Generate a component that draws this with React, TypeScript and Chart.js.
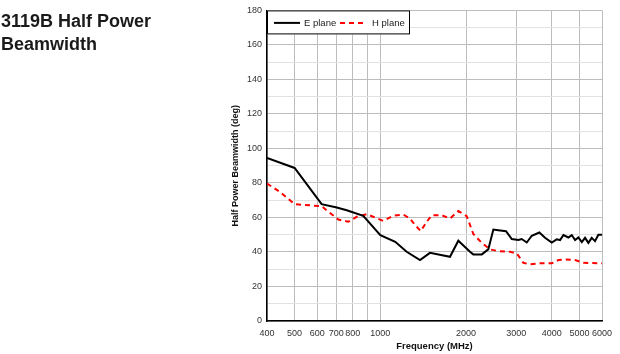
import React, { useEffect, useRef } from "react";
import { Chart, registerables } from "chart.js";

Chart.register(...registerables);

const eFreq = [400, 500, 622, 703, 762, 871, 1000, 1128, 1237, 1378, 1493, 1756, 1878, 2064, 2120, 2270, 2393, 2493, 2595, 2762, 2893, 3051, 3136, 3266, 3401, 3616, 3786, 3997, 4161, 4276, 4393, 4572, 4699, 4826, 4957, 5096, 5233, 5374, 5522, 5672, 5825, 6000];
const eVal = [94.5, 88.7, 67.7, 65.8, 64.2, 61, 49.8, 45.9, 40.1, 35.3, 39.5, 37.2, 46.5, 40.1, 38.6, 38.6, 41.5, 53, 52.6, 52, 47.5, 46.9, 47.5, 45.5, 49.4, 51.3, 48.2, 45.5, 47.3, 46.9, 49.8, 48.4, 49.8, 46.9, 48.4, 45.7, 48.2, 45.3, 48.2, 46.3, 50, 50];

const hFreq = [400, 444, 500, 622, 712, 772, 826, 896, 1024, 1111, 1204, 1271, 1324, 1386, 1455, 1515, 1642, 1756, 1878, 2010, 2120, 2270, 2427, 2595, 2853, 3012, 3177, 3354, 3636, 3997, 4216, 4451, 4826, 5161, 6000];
const hVal = [79.7, 74.8, 67.7, 66.5, 58.8, 57.5, 60.4, 61.9, 58, 61, 61.7, 59.4, 55.6, 52.1, 57.5, 61.3, 61.3, 59.4, 63.7, 60.8, 50.5, 45.3, 41.5, 40.5, 40.1, 39.2, 33.7, 32.8, 33.4, 33.4, 35.3, 35.7, 35.3, 33.7, 33.4];

const xTicks = [400, 500, 600, 700, 800, 900, 1000, 2000, 3000, 4000, 5000, 6000];
const xTickLabels = ["400", "500", "600", "700", "800", "", "1000", "2000", "3000", "4000", "5000", "6000"];

const titleLines = ["3119B Half Power", "Beamwidth"];
const seriesNames = ["E plane", "H plane"];
const yTitle = "Half Power Beamwidth (deg)";
const xTitle = "Frequency (MHz)";

const FONT = '"Liberation Sans", Arial, sans-serif';

export default function App() {
  const ref = useRef<HTMLCanvasElement | null>(null);

  useEffect(() => {
    if (!ref.current) return;
    const overlay = {
      id: "overlay",
      afterDraw(chart: any) {
        const ctx = chart.ctx;
        const ca = chart.chartArea;
        ctx.save();
        // title
        ctx.fillStyle = "#1a1a1a";
        ctx.font = `bold 18px ${FONT}`;
        ctx.textBaseline = "alphabetic";
        ctx.textAlign = "left";
        ctx.fillText(titleLines[0], 1, 27);
        ctx.fillText(titleLines[1], 1, 49.5);
        // legend
        const bx = ca.left, by = ca.top, bw = 143, bh = 24;
        ctx.fillStyle = "#fff";
        ctx.fillRect(bx, by, bw, bh);
        ctx.strokeStyle = "#000";
        ctx.lineWidth = 1;
        ctx.strokeRect(bx + 0.5, by + 0.5, bw - 1, bh - 1);
        const ly = by + 12.5;
        ctx.lineWidth = 2;
        ctx.strokeStyle = "#000";
        ctx.setLineDash([]);
        ctx.beginPath();
        ctx.moveTo(bx + 7, ly);
        ctx.lineTo(bx + 33, ly);
        ctx.stroke();
        ctx.strokeStyle = "#ff0000";
        ctx.setLineDash([5, 4]);
        ctx.beginPath();
        ctx.moveTo(bx + 73, ly);
        ctx.lineTo(bx + 96, ly);
        ctx.stroke();
        ctx.setLineDash([]);
        ctx.fillStyle = "#222";
        ctx.font = `9.5px ${FONT}`;
        ctx.textBaseline = "middle";
        ctx.fillText(seriesNames[0], bx + 37, ly + 0.5);
        ctx.fillText(seriesNames[1], bx + 105, ly + 0.5);
        ctx.restore();
      },
    };

    const chart = new Chart(ref.current, {
      type: "line",
      data: {
        datasets: [
          {
            label: seriesNames[0],
            data: eFreq.map((f, i) => ({ x: f, y: eVal[i] })),
            borderColor: "#000",
            borderWidth: 2,
            pointRadius: 0,
            tension: 0,
          },
          {
            label: seriesNames[1],
            data: hFreq.map((f, i) => ({ x: f, y: hVal[i] })),
            borderColor: "#ff0000",
            borderWidth: 2,
            borderDash: [5, 4],
            pointRadius: 0,
            tension: 0,
          },
        ],
      },
      options: {
        animation: false,
        responsive: false,
        devicePixelRatio: 1,
        layout: { padding: { left: 230, top: 10, right: 18, bottom: 0 } },
        plugins: {
          legend: { display: false },
          tooltip: { enabled: false },
          title: { display: false },
        },
        scales: {
          x: {
            type: "logarithmic",
            min: 400,
            max: 6000,
            afterBuildTicks: (scale: any) => {
              scale.ticks = xTicks.map((v) => ({ value: v }));
            },
            afterFit: (scale: any) => {
              scale.height = 33;
            },
            ticks: {
              autoSkip: false,
              maxRotation: 0,
              padding: 7,
              color: "#333",
              font: { family: FONT, size: 9 },
              callback: (v: any) => {
                const i = xTicks.indexOf(Number(v));
                return i >= 0 ? xTickLabels[i] : "";
              },
            },
            grid: { color: "#bdbdbd", drawTicks: false, lineWidth: 1 },
            border: { color: "#000", width: 1.5 },
            title: {
              display: true,
              text: xTitle,
              color: "#111",
              font: { family: FONT, size: 9.5, weight: "bold" },
              padding: { top: 0, bottom: 2 },
            },
          },
          y: {
            min: 0,
            max: 180,
            afterFit: (scale: any) => {
              scale.width = 37;
            },
            ticks: {
              stepSize: 10,
              padding: 5,
              color: "#333",
              font: { family: FONT, size: 9 },
              callback: (v: any) => (Number(v) % 20 === 0 ? String(v) : ""),
            },
            grid: {
              drawTicks: false,
              color: (ctx: any) => (ctx.tick && ctx.tick.value % 20 === 0 ? "#bdbdbd" : "#e2e2e2"),
            },
            border: { color: "#000", width: 1.5 },
            title: {
              display: true,
              text: yTitle,
              color: "#111",
              font: { family: FONT, size: 9, weight: "bold" },
              padding: { top: 0, bottom: 0 },
            },
          },
        },
      },
      plugins: [overlay],
    } as any);
    return () => chart.destroy();
  }, []);

  return (
    <div style={{ position: "fixed", left: 0, top: 0, width: 620, height: 354, background: "#fff" }}>
      <canvas ref={ref} width={620} height={354} style={{ display: "block", width: 620, height: 354 }} />
    </div>
  );
}
